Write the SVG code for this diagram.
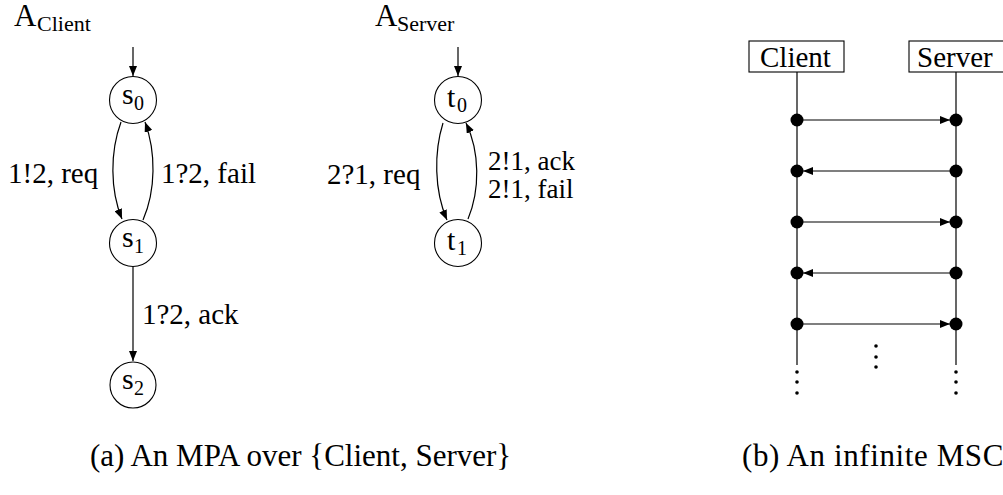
<svg xmlns="http://www.w3.org/2000/svg" width="1003" height="495" viewBox="0 0 1003 495">
<style>
.st{fill:#fff;stroke:#000;stroke-width:1.1}
.ln{fill:none;stroke:#000;stroke-width:1.2}
.dot{fill:#000}
</style>
<defs>
<marker id="ah" viewBox="0 0 10 8" refX="10" refY="4" markerWidth="10" markerHeight="8" markerUnits="userSpaceOnUse" orient="auto">
<path d="M0,0 L10,4 L0,8 Z" fill="#000"/>
</marker>
</defs>
<rect width="1003" height="495" fill="#fff"/>

<g id="title-client">
<text font-family="Liberation Serif" x="14" y="26" font-size="31">A</text>
<text font-family="Liberation Serif" x="37" y="31" font-size="22">Client</text>
</g>
<g id="title-server">
<text font-family="Liberation Serif" x="375" y="26" font-size="31">A</text>
<text font-family="Liberation Serif" x="397" y="31" font-size="22">Server</text>
</g>

<g id="connectors">
<line class="ln" x1="133" y1="47" x2="133" y2="76" marker-end="url(#ah)"/>
<path class="ln" d="M121,122 C110,152 110,190 122,219" marker-end="url(#ah)"/>
<path class="ln" d="M143,220 C156,190 156,152 145,122" marker-end="url(#ah)"/>
<line class="ln" x1="133" y1="266" x2="133" y2="361" marker-end="url(#ah)"/>
<line class="ln" x1="458" y1="47" x2="458" y2="76" marker-end="url(#ah)"/>
<path class="ln" d="M443,123 C434,152 434,190 447,220" marker-end="url(#ah)"/>
<path class="ln" d="M468,219 C480,190 480,152 466,123" marker-end="url(#ah)"/>
<text font-family="Liberation Serif" font-size="29" x="8" y="183">1!2, req</text>
<text font-family="Liberation Serif" font-size="29" x="161" y="183">1?2, fail</text>
<text font-family="Liberation Serif" font-size="29" x="142" y="324">1?2, ack</text>
<text font-family="Liberation Serif" font-size="29" x="327" y="184">2?1, req</text>
<text font-family="Liberation Serif" font-size="27" x="488" y="170">2!1, ack</text>
<text font-family="Liberation Serif" font-size="27" x="488" y="198">2!1, fail</text>
</g>

<g id="s0"><circle class="st" cx="133" cy="100" r="23.5"/><text font-family="Liberation Serif" x="122" y="104" font-size="30">s</text><text font-family="Liberation Serif" x="134" y="110" font-size="20">0</text></g>
<g id="s1"><circle class="st" cx="133" cy="243" r="23.5"/><text font-family="Liberation Serif" x="122" y="247" font-size="30">s</text><text font-family="Liberation Serif" x="134" y="253" font-size="20">1</text></g>
<g id="s2"><circle class="st" cx="133" cy="385" r="23"/><text font-family="Liberation Serif" x="122" y="389" font-size="30">s</text><text font-family="Liberation Serif" x="134" y="395" font-size="20">2</text></g>
<g id="t0"><circle class="st" cx="458" cy="100" r="23.5"/><text font-family="Liberation Serif" x="447" y="107" font-size="30">t</text><text font-family="Liberation Serif" x="457" y="112" font-size="20">0</text></g>
<g id="t1"><circle class="st" cx="458" cy="243" r="23.5"/><text font-family="Liberation Serif" x="447" y="250" font-size="30">t</text><text font-family="Liberation Serif" x="457" y="255" font-size="20">1</text></g>

<g id="msc-client">
<rect x="749" y="41" width="95" height="31" fill="#fff" stroke="#000" stroke-width="1.1"/>
<text font-family="Liberation Serif" x="760" y="67" font-size="29">Client</text>
<line class="ln" x1="797" y1="72" x2="797" y2="365"/>
<circle class="dot" cx="797" cy="372" r="1.8"/><circle class="dot" cx="797" cy="382" r="1.8"/><circle class="dot" cx="797" cy="393" r="1.8"/>
</g>
<g id="msc-server">
<rect x="909" y="41" width="100" height="31" fill="#fff" stroke="#000" stroke-width="1.1"/>
<text font-family="Liberation Serif" x="917" y="67" font-size="29">Server</text>
<line class="ln" x1="956" y1="72" x2="956" y2="365"/>
<circle class="dot" cx="956" cy="372" r="1.8"/><circle class="dot" cx="956" cy="382" r="1.8"/><circle class="dot" cx="956" cy="393" r="1.8"/>
</g>
<g id="msc-messages">
<line class="ln" x1="797" y1="120" x2="950" y2="120" marker-end="url(#ah)"/>
<line class="ln" x1="956" y1="171" x2="803" y2="171" marker-end="url(#ah)"/>
<line class="ln" x1="797" y1="222" x2="950" y2="222" marker-end="url(#ah)"/>
<line class="ln" x1="956" y1="273" x2="803" y2="273" marker-end="url(#ah)"/>
<line class="ln" x1="797" y1="324" x2="950" y2="324" marker-end="url(#ah)"/>
<g class="dot">
<circle cx="797" cy="120" r="6.5"/><circle cx="956" cy="120" r="6.5"/>
<circle cx="797" cy="171" r="6.5"/><circle cx="956" cy="171" r="6.5"/>
<circle cx="797" cy="222" r="6.5"/><circle cx="956" cy="222" r="6.5"/>
<circle cx="797" cy="273" r="6.5"/><circle cx="956" cy="273" r="6.5"/>
<circle cx="797" cy="324" r="6.5"/><circle cx="956" cy="324" r="6.5"/>
</g>
<circle class="dot" cx="876" cy="346" r="1.8"/><circle class="dot" cx="876" cy="357" r="1.8"/><circle class="dot" cx="876" cy="367" r="1.8"/>
</g>

<g id="captions">
<text font-family="Liberation Serif" x="90" y="466" font-size="31">(a) An MPA over {Client, Server}</text>
<text font-family="Liberation Serif" x="742" y="466" font-size="31" letter-spacing="0.6">(b) An infinite MSC</text>
</g>
</svg>
